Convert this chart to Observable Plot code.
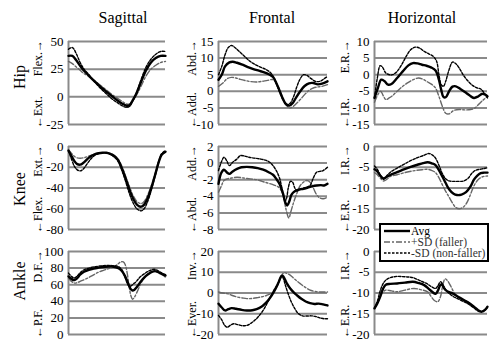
<!DOCTYPE html>
<html><head><meta charset="utf-8">
<script src="https://cdn.jsdelivr.net/npm/d3@7"></script>
<script src="https://cdn.jsdelivr.net/npm/@observablehq/plot@0.6"></script>
<style>
body{margin:0;background:#fff;}
#chart{position:relative;width:490px;height:341px;overflow:hidden;background:#fff;font-family:"Liberation Serif","DejaVu Serif","Times New Roman",serif;}
#chart > *{position:absolute;}
#chart svg text{font-family:"Liberation Serif","DejaVu Serif","Times New Roman",serif;}
</style></head><body><div id="chart"></div>
<script>
// ---- Labels ----
const colTitles = ["Sagittal", "Frontal", "Horizontal"];
const rowTitles = ["Hip", "Knee", "Ankle"];
const upLabels = [["Flex.", "Abd.", "E.R."], ["Ext.", "Add.", "I.R."], ["D.F.", "Inv.", "I.R."]];
const downLabels = [["Ext.", "Add.", "I.R."], ["Flex.", "Abd.", "E.R."], ["P.F.", "Ever.", "E.R."]];
const legendLabels = ["Avg", "+SD (faller)", "-SD (non-faller)"];

// ---- Y ticks per panel ----
const hipSagTicks = [-25, 0, 25, 50];
const hipFroTicks = [-10, -5, 0, 5, 10, 15];
const hipHorTicks = [-15, -10, -5, 0, 5, 10];
const kneeSagTicks = [-80, -60, -40, -20, 0];
const kneeFroTicks = [-8, -6, -4, -2, 0, 2];
const kneeHorTicks = [-20, -15, -10, -5, 0];
const ankSagTicks = [0, 20, 40, 60, 80, 100];
const ankFroTicks = [-20, -10, 0, 10, 20];
const ankHorTicks = [-20, -15, -10, -5, 0];

// ---- Series: [% gait cycle, angle (deg)] ----
const hipSagAvg = [[0,37],[4,37],[8,33],[12,28],[16,23.5],[20,20],[25,15.5],[30,11.5],[35,7.5],[40,4],[45,0.5],[50,-3],[55,-6],[60,-8],[63,-7.5],[66,-3.5],[70,3],[75,14],[80,24],[85,31],[90,35],[95,37],[100,37]];
const hipSagFaller = [[0,32],[4,30],[8,27],[12,24],[16,21],[20,19],[25,16],[30,12.5],[35,9],[40,5.5],[45,2],[50,-1],[55,-4],[60,-6.5],[63,-6.5],[66,-4],[70,1.5],[75,10],[80,19],[85,25],[90,28.5],[95,31],[100,32]];
const hipSagNonFaller = [[0,43],[4,44.5],[8,39],[12,31],[16,25],[20,21],[25,15.5],[30,10.5],[35,6],[40,2],[45,-2],[50,-5],[55,-8],[60,-9.5],[63,-8.5],[66,-4],[70,3.5],[75,16],[80,27],[85,34],[90,38.5],[95,41],[100,41]];

const hipFroAvg = [[0,3.5],[3,5],[6,7.5],[10,8.7],[13,8.9],[17,8.6],[22,8],[27,7.3],[32,6.7],[37,6.2],[42,5.7],[47,5],[50,4.3],[53,2.5],[56,0.2],[59,-2.2],[62,-3.9],[65,-4.3],[68,-3.6],[71,-2],[75,0],[79,1.6],[83,2.4],[87,2.5],[91,2.1],[95,2.3],[100,3]];
const hipFroFaller = [[0,1.5],[4,2.5],[8,3.8],[12,4.2],[16,4],[20,3.6],[25,3.2],[30,2.9],[35,2.8],[40,3],[45,3.3],[50,3.5],[53,2.5],[56,0.5],[59,-2],[62,-4],[65,-5],[68,-4.7],[71,-3.8],[75,-2.5],[79,-1],[83,0.3],[87,1],[91,1.3],[95,1.5],[100,2]];
const hipFroNonFaller = [[0,5],[3,7.5],[6,11],[9,13.2],[12,13.8],[15,13.2],[19,12],[24,10.5],[29,9],[34,8],[39,7.2],[44,6.5],[48,5.5],[51,4],[54,1.5],[57,-1],[60,-3],[63,-4],[66,-3.5],[69,-1.5],[72,1.5],[75,3.8],[78,5],[81,4.8],[85,3.8],[89,3],[93,3],[97,3.8],[100,4.5]];

const hipHorAvg = [[0,-7],[3,-4],[6,-1.5],[9,-2],[12,-3],[15,-2.8],[20,-1],[25,1],[30,2.8],[34,3.5],[38,3.4],[42,3],[46,2.7],[50,2.2],[54,1.3],[57,-1.5],[59,-4.5],[61,-6.7],[63,-6.8],[66,-5],[69,-3.6],[72,-3.5],[76,-4.3],[80,-5.2],[84,-6.2],[88,-7],[92,-6.5],[95,-5.8],[98,-6],[100,-6.5]];
const hipHorFaller = [[0,-8.3],[3,-6],[5.5,-5],[8,-6.5],[10,-7.5],[13,-7],[16,-6.3],[20,-5],[25,-3.5],[30,-2.3],[35,-1.4],[39,-1],[43,-1.4],[47,-2.2],[51,-3],[54,-4],[57,-6.5],[60,-9.5],[63,-11.6],[66,-11.8],[70,-10.8],[75,-10.5],[80,-10.6],[85,-10.5],[89,-10],[92,-9],[95,-8],[100,-6.5]];
const hipHorNonFaller = [[0,-7],[2.5,-1],[5,2.7],[7,2.3],[10,0.5],[13,0],[16,0],[20,1],[24,3],[28,5.5],[32,7.5],[36,8.3],[40,8],[44,7],[48,6.3],[52,5.5],[55,4],[57,0],[59,-3],[61,-3.5],[63,-2],[66,1.5],[69,3.8],[72,3.3],[75,2],[79,-0.3],[83,-2],[87,-3.3],[91,-4],[94,-4.3],[97,-5.5],[100,-7]];

const kneeSagAvg = [[0,-4],[3,-9],[6,-14],[9,-17],[12,-17.5],[15,-16],[19,-12.5],[23,-9.5],[27,-7.5],[31,-6.5],[35,-6],[39,-6],[43,-7],[47,-9],[51,-13],[55,-21],[59,-31],[63,-42],[67,-51],[71,-56.5],[75,-58],[78,-56],[82,-49],[86,-38],[90,-25],[93,-15],[96,-8],[100,-5]];
const kneeSagFaller = [[0,-3],[3,-6.5],[6,-9.5],[9,-11],[12,-11.3],[15,-11],[19,-10],[23,-8.5],[27,-7.2],[31,-6.4],[35,-6],[39,-6],[43,-6.8],[47,-8.5],[51,-12],[55,-19],[59,-29],[63,-39],[67,-48],[71,-53.5],[75,-55],[78,-53],[82,-46],[86,-36],[90,-24],[93,-14],[96,-8],[100,-5]];
const kneeSagNonFaller = [[0,-4],[3,-12],[6,-19],[9,-22.5],[12,-23.5],[15,-22],[19,-17],[23,-12],[27,-8.5],[31,-6.8],[35,-6],[39,-6.2],[43,-7.5],[47,-10],[51,-14],[55,-23],[59,-34],[63,-46],[67,-55],[71,-60.5],[75,-62],[78,-60],[82,-52],[86,-40],[90,-26],[93,-15],[96,-7],[100,-4]];

const kneeFroAvg = [[0,-2.5],[2.5,-1.2],[5,-0.8],[7.5,-1.1],[10,-1.3],[13,-1],[17,-0.7],[21,-0.5],[26,-0.45],[31,-0.5],[36,-0.6],[41,-0.8],[46,-1.1],[50,-1.4],[53,-1.9],[56,-2.5],[59,-3.6],[61.5,-4.8],[63,-5.1],[65,-4.6],[67,-3.8],[70,-3.4],[74,-3.2],[78,-3.1],[82,-2.95],[86,-2.8],[90,-2.7],[94,-2.65],[97,-2.7],[100,-2.5]];
const kneeFroFaller = [[0,-3.5],[2.5,-2.8],[5,-2.1],[8,-1.9],[12,-1.8],[17,-1.7],[23,-1.8],[29,-1.9],[35,-2],[40,-2.2],[45,-2.4],[50,-2.6],[55,-2.9],[58,-3.4],[60,-4.3],[62,-5.6],[64.5,-6.6],[66.5,-5.8],[69,-4.7],[72,-3.6],[75,-2.7],[78,-2.3],[81,-2.1],[84,-2.3],[87,-3],[90,-3.8],[93,-4.2],[96,-4.3],[100,-4.1]];
const kneeFroNonFaller = [[0,-0.9],[2.5,0.1],[5,0.7],[7.5,0.3],[10,-0.3],[13,0.1],[17,0.5],[20,0.9],[24,0.85],[28,0.7],[33,0.6],[38,0.5],[43,0.35],[47,0.1],[50,-0.3],[53,-0.9],[56,-1.8],[58.5,-3.2],[61,-4.6],[62.5,-4.2],[64,-3],[66,-2.2],[68,-2.3],[70,-3],[72,-3.3],[75,-3.1],[78,-3],[81,-2.9],[84,-2.7],[87,-1.8],[90,-1.1],[93,-1],[96,-0.9],[100,-0.5]];

const kneeHorAvg = [[0,-5.5],[2.5,-6],[5,-7],[8,-7.7],[11,-7.3],[15,-6.7],[20,-6.2],[26,-5.5],[32,-4.9],[38,-4.4],[43,-4],[47,-3.8],[51,-4.1],[54,-4.5],[57,-5.7],[60,-7.2],[63,-8.8],[66,-10.3],[70,-11.4],[73,-11.7],[77,-11.6],[81,-11],[85,-9.6],[88,-8],[91,-7],[94,-6.4],[97,-6.3],[100,-6.3]];
const kneeHorFaller = [[0,-6.3],[2.5,-6.8],[5,-7.6],[8,-8.3],[11,-7.9],[14,-7.2],[20,-6.8],[28,-6.2],[36,-5.8],[42,-5.6],[47,-5.5],[51,-5.8],[54,-6.3],[57,-7.5],[60,-9.2],[63,-10.8],[66,-12.2],[69,-13.6],[72,-14.7],[75,-15],[79,-14.5],[82,-13.4],[85,-11.5],[88,-9.5],[91,-8.2],[94,-7.5],[97,-7.2],[100,-7.1]];
const kneeHorNonFaller = [[0,-4.7],[2.5,-5.5],[5,-6.8],[8,-7.9],[11,-7],[15,-6],[20,-5.2],[26,-4.3],[32,-3.4],[38,-2.7],[44,-2.1],[48,-1.7],[51,-2],[54,-2.8],[57,-4.5],[60,-6.5],[63,-7.8],[66,-8.3],[70,-8.4],[75,-8.4],[79,-8.3],[83,-7.6],[86,-6.5],[89,-5.8],[93,-5.5],[97,-5.3],[100,-5.1]];

const ankSagAvg = [[0,70],[3,67],[6,65.5],[9,68],[12,72],[16,75.5],[21,78],[26,79.5],[31,80.5],[36,81.3],[41,81.8],[45,82],[49,81],[52,79.5],[55,76.5],[58,71],[61,63],[64,55],[66,53],[68,54],[71,58],[74,63],[78,68.5],[82,72.5],[86,75.5],[89,76.3],[92,75.5],[95,73.5],[100,71]];
const ankSagFaller = [[0,68],[3,64],[6,62],[9,62.5],[13,64.5],[18,67],[24,70.5],[29,74],[34,76.5],[39,78.5],[44,80.5],[48,82.5],[51,85],[54,87.5],[56.5,87.5],[58.5,84],[60.5,74],[62.5,58],[64.5,46],[66,42.5],[68,45],[71,52],[74,60],[78,68],[82,73],[85,75.5],[88,76],[91,75.5],[95,74],[100,69]];
const ankSagNonFaller = [[0,74],[3,70],[6,68],[9,70.5],[12,74.5],[16,78],[21,80],[26,81.5],[31,82.3],[36,83],[41,83.2],[45,83],[49,82.5],[52,81.5],[55,78],[58,70],[60.5,62],[62.5,58],[64.5,58.5],[67,61],[70,64],[74,69.5],[78,73],[82,76],[86,78],[89,78.5],[92,77],[95,75],[100,72]];

const ankFroAvg = [[0,-5.2],[3,-7],[6,-8.4],[9,-7.8],[12,-7.3],[16,-7.6],[21,-8.1],[26,-8.4],[31,-8.3],[35,-7.8],[39,-6.8],[43,-5],[46,-3.2],[49,-1],[52,1.7],[55,5],[57.5,8],[59,8.3],[61,6.5],[63,4.4],[66,2],[69,0.3],[72,-1.1],[76,-2.8],[80,-4.1],[84,-4.9],[88,-5.3],[92,-5.1],[96,-5.5],[100,-6]];
const ankFroFaller = [[0,0.5],[4,0],[8,-0.3],[12,-1.1],[17,-1.9],[22,-2.4],[26,-2.7],[31,-2.6],[36,-2.2],[40,-1.8],[44,-1.2],[48,-0.3],[51,1],[54,3.5],[56.5,6.5],[58.5,9],[60,9.8],[62,9.6],[66,8.5],[70,6.6],[75,4.5],[80,2.6],[85,1.2],[90,0.6],[95,0.5],[100,0.5]];
const ankFroNonFaller = [[0,-10.8],[3,-13],[5.5,-15.5],[8,-16.5],[11,-15.5],[14,-14.8],[18,-15.3],[22,-15.8],[26,-15.6],[30,-14.5],[34,-12.8],[38,-10.5],[42,-7.5],[45,-4.5],[48,-1.5],[51,1.5],[54,4],[56.5,7],[58,8.5],[59.5,7],[61.5,3.5],[64,-0.5],[67,-4.5],[70,-7.5],[73,-9.8],[77,-11],[81,-11.1],[85,-11],[89,-11.3],[93,-12],[97,-12.4],[100,-12.4]];

const ankHorAvg = [[0,-13.7],[2.5,-12.5],[5,-10.9],[7.5,-9],[10,-8],[14,-7.8],[20,-7.7],[27,-7.5],[34,-7.3],[39,-7.6],[44,-8.1],[48,-9],[51,-9.7],[54,-10.2],[56,-9.5],[58,-8.2],[59.5,-7.9],[61,-8.6],[63,-9.3],[66,-9.8],[69,-10.1],[74,-10.9],[79,-11.7],[84,-12.5],[88,-13.3],[92,-14.2],[95,-14.5],[98,-14],[100,-13.3]];
const ankHorFaller = [[0,-13.7],[2.5,-12.5],[5,-11],[7.5,-9.8],[10,-9.3],[15,-9.5],[20,-9.7],[27,-9.3],[35,-8.9],[41,-9.2],[47,-9.7],[50,-10.8],[53,-11.8],[56,-12.1],[58.5,-10.8],[60.5,-8],[62.5,-6.6],[64.5,-7],[67,-8.1],[70,-9.7],[73,-10.9],[78,-11.6],[82,-12.1],[87,-13.1],[91,-14.1],[95,-14.5],[98,-14],[100,-13.5]];
const ankHorNonFaller = [[0,-13.7],[2.5,-12],[5,-9.5],[7.5,-7.8],[10,-6.9],[14,-6.3],[20,-6],[27,-6.1],[34,-6.3],[40,-7],[46,-7.7],[50,-8.4],[54,-8.9],[56,-8.3],[58.5,-7.3],[61,-8.2],[63.5,-9.4],[66,-10.1],[70,-10.9],[76,-11.7],[82,-12.5],[87,-13.4],[92,-14.4],[95,-14.5],[98,-14],[100,-13.5]];

// ---- Layout ----
const colX = [[68, 165], [218, 327], [374, 487]];
const rowY = [[41, 124], [146, 229], [251, 334]];
const panels = [
  [[hipSagTicks, hipSagAvg, hipSagFaller, hipSagNonFaller], [hipFroTicks, hipFroAvg, hipFroFaller, hipFroNonFaller], [hipHorTicks, hipHorAvg, hipHorFaller, hipHorNonFaller]],
  [[kneeSagTicks, kneeSagAvg, kneeSagFaller, kneeSagNonFaller], [kneeFroTicks, kneeFroAvg, kneeFroFaller, kneeFroNonFaller], [kneeHorTicks, kneeHorAvg, kneeHorFaller, kneeHorNonFaller]],
  [[ankSagTicks, ankSagAvg, ankSagFaller, ankSagNonFaller], [ankFroTicks, ankFroAvg, ankFroFaller, ankFroNonFaller], [ankHorTicks, ankHorAvg, ankHorFaller, ankHorNonFaller]]
];
const FONT = '"Liberation Serif","DejaVu Serif","Times New Roman",serif';
const GRID = "#8a8a8a";
const styles = {
  avg: {stroke: "#000", strokeWidth: 2.4},
  faller: {stroke: "#666", strokeWidth: 1.4, strokeDasharray: "6,2,2,2"},
  nonFaller: {stroke: "#000", strokeWidth: 1.4, strokeDasharray: "2.5,1.5"}
};

const chart = document.getElementById("chart");

// overlay text (below plots)
const ov = d3.select(chart).append("svg").attr("width", 490).attr("height", 341)
  .style("left", "0px").style("top", "0px").style("font-family", FONT);
const titleX = [123, 272, 422];
colTitles.forEach((t, i) => ov.append("text").attr("x", titleX[i]).attr("y", 23)
  .attr("text-anchor", "middle").attr("font-size", 16).text(t));
const rowCY = [77, 189, 281];
rowTitles.forEach((t, i) => ov.append("text").attr("transform", `translate(25,${rowCY[i]}) rotate(-90)`)
  .attr("text-anchor", "middle").attr("font-size", 16).text(t));
const dirX = [41.5, 195.5, 348.5];
for (let r = 0; r < 3; r++) for (let c = 0; c < 3; c++) {
  ov.append("text").attr("transform", `translate(${dirX[c]},${rowY[r][0] - 1}) rotate(-90)`)
    .attr("text-anchor", "end").attr("font-size", 12).text(upLabels[r][c] + "\u2192");
  ov.append("text").attr("transform", `translate(${dirX[c]},${Math.min(rowY[r][1] + 4, 338)}) rotate(-90)`)
    .attr("text-anchor", "start").attr("font-size", 12).text("\u2190" + downLabels[r][c]);
}

// panels
const ml = 32, mr = 3, mt = 8, mb = 7;
for (let r = 0; r < 3; r++) for (let c = 0; c < 3; c++) {
  const [ticks, avg, faller, nonFaller] = panels[r][c];
  const [x0, x1] = colX[c], [y0, y1] = rowY[r];
  const svg = Plot.plot({
    width: x1 - x0 + ml + mr, height: y1 - y0 + mt + mb,
    marginLeft: ml, marginRight: mr, marginTop: mt, marginBottom: mb,
    x: {domain: [0, 100], axis: null},
    y: {domain: [d3.min(ticks), d3.max(ticks)], axis: null},
    style: {fontFamily: FONT, fontSize: "13px", background: "transparent", overflow: "visible", color: "#000"},
    marks: [
      Plot.gridY(ticks, {stroke: GRID, strokeOpacity: 1, strokeWidth: 2}),
      Plot.ruleX([0], {stroke: GRID, strokeWidth: 2}),
      Plot.axisY(ticks, {tickSize: 0, tickPadding: 5, tickFormat: d => String(d), fontSize: 13, fontFamily: FONT, label: null, fill: "#000"}),
      Plot.line(faller, {x: d => d[0], y: d => d[1], curve: "catmull-rom", ...styles.faller}),
      Plot.line(nonFaller, {x: d => d[0], y: d => d[1], curve: "catmull-rom", ...styles.nonFaller}),
      Plot.line(avg, {x: d => d[0], y: d => d[1], curve: "catmull-rom", ...styles.avg})
    ]
  });
  svg.style.left = (x0 - ml) + "px";
  svg.style.top = (y0 - mt) + "px";
  svg.style.fontFamily = FONT;
  chart.appendChild(svg);
}

// legend
const lg = d3.select(chart).append("svg").attr("width", 110).attr("height", 39)
  .style("left", "379px").style("top", "223px").style("font-family", FONT);
lg.append("rect").attr("x", 1).attr("y", 1).attr("width", 108).attr("height", 37)
  .attr("fill", "#fff").attr("stroke", "#000").attr("stroke-width", 2);
const keys = ["avg", "faller", "nonFaller"];
keys.forEach((k, i) => {
  const y = 8 + i * 11;
  const s = styles[k];
  lg.append("line").attr("x1", 5).attr("x2", 31).attr("y1", y).attr("y2", y)
    .attr("stroke", s.stroke).attr("stroke-width", s.strokeWidth).attr("stroke-dasharray", s.strokeDasharray || null);
  lg.append("text").attr("x", 32).attr("y", y).attr("dy", "0.35em").attr("font-size", 11.5)
    .attr("fill", k === "avg" ? "#000" : "#333").text(legendLabels[i]);
});
</script></body></html>
